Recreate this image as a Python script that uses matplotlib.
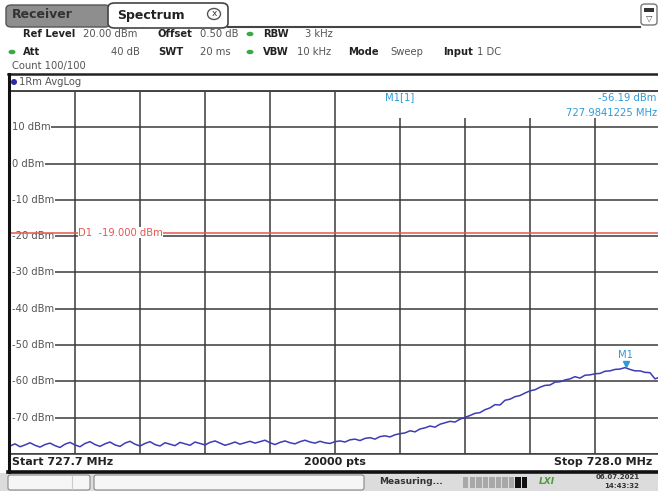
import numpy as np
import matplotlib.pyplot as plt
from matplotlib.patches import Rectangle, FancyBboxPatch, Ellipse
from matplotlib.transforms import blended_transform_factory

# 화면 크기 (px)
W, H = 658, 491

start_mhz = 727.7
stop_mhz = 728.0
ref_level = 20
bottom_level = -80
y_ticks = [10, 0, -10, -20, -30, -40, -50, -60, -70]
d1_level = -19.0
m1_freq = 727.9841225
m1_level = -56.19
sweep_pts = 20000

# 화면에서 읽은 트레이스 값 (dBm)
trace_dbm = [
    -77.8, -77.2, -78.0, -77.5, -76.9, -77.6, -78.1, -77.4, -77.0, -77.7,
    -78.2, -77.3, -76.8, -77.5, -78.0, -77.1, -76.6, -77.4, -77.9, -77.2,
    -76.7, -77.5, -77.9, -77.0, -76.5, -77.3, -77.8, -77.1, -76.6, -77.4,
    -77.8, -76.9, -77.3, -77.7, -76.8, -77.2, -77.6, -76.7, -77.1, -77.5,
    -76.8, -76.4, -77.0, -77.6, -77.2, -76.7, -77.3, -76.9, -76.5, -77.0,
    -76.6, -76.2, -76.9, -77.4, -76.8, -76.4, -76.9, -77.2, -76.6, -76.2,
    -76.7, -77.0, -76.5, -76.9, -77.1, -76.6,
    -76.4, -76.7, -76.1, -75.9, -76.3, -75.7, -75.5, -75.9, -75.2, -75.0, -75.3, -74.7, -74.4,
    -74.2, -73.6, -73.9, -73.1, -72.8, -72.3, -72.6, -71.8, -71.4, -71.0, -71.2, -70.4, -69.9,
    -69.4, -68.8, -68.6, -67.8, -67.3, -66.4, -66.5, -65.2, -64.9, -64.2, -63.9, -63.2, -62.6,
    -62.3, -61.6, -61.1, -61.0, -60.2, -60.1, -59.6, -59.3, -58.7, -59.1, -58.3, -58.2, -57.9,
    -57.8, -57.2, -57.1, -56.7, -56.6, -56.2, -56.7, -57.1, -57.1, -57.5, -57.6, -59.3, -58.8,
]

label_grey = "#555555"
grid_col = "#3a3a3a"
trace_col = "#3c3cb4"
marker_col = "#2e9ad8"
d1_col = "#e8564e"
green = "#3aa845"


def fx(x):
    return x / W


def fy(y):
    return 1 - y / H


fig = plt.figure(figsize=(W / 100, H / 100), dpi=100)
fig.patch.set_facecolor("white")

# 탭
fig.add_artist(FancyBboxPatch((fx(6), fy(27)), 104 / W, 22 / H,
                              boxstyle="round,pad=0,rounding_size=0.008",
                              transform=fig.transFigure, fc="#8e8e8e", ec="#555555", lw=1))
fig.add_artist(FancyBboxPatch((fx(108), fy(28)), 120 / W, 25 / H,
                              boxstyle="round,pad=0,rounding_size=0.01",
                              transform=fig.transFigure, fc="white", ec="#444444", lw=1.2))
fig.add_artist(plt.Line2D([fx(228), fx(640)], [fy(27), fy(27)], transform=fig.transFigure,
                          color="#444444", lw=1.5))
fig.text(fx(12), fy(15), "Receiver", fontsize=9, fontweight="bold", color="#333333", va="center")
fig.text(fx(117), fy(15), "Spectrum", fontsize=9, fontweight="bold", color="#222222", va="center")
fig.add_artist(Ellipse((fx(214), fy(14)), 13 / W, 11 / H, transform=fig.transFigure,
                       fc="white", ec="#555555", lw=1))
fig.text(fx(214), fy(14), "x", fontsize=6.5, color="#333333", ha="center", va="center")
fig.add_artist(FancyBboxPatch((fx(641), fy(25)), 16 / W, 21 / H,
                              boxstyle="round,pad=0,rounding_size=0.006",
                              transform=fig.transFigure, fc="white", ec="#777777", lw=1))
fig.add_artist(Rectangle((fx(644), fy(12)), 10 / W, 4 / H, transform=fig.transFigure,
                         fc="#333333", ec="none"))
fig.text(fx(649), fy(18), "▽", fontsize=6, color="#444444", ha="center", va="center")

# 설정 정보
hdr = 7.2
rows = [
    (34, [(23, "Ref Level", True), (83, "20.00 dBm", False), (158, "Offset", True),
          (200, "0.50 dB", False), (263, "RBW", True), (305, "3 kHz", False)]),
    (52, [(23, "Att", True), (158, "SWT", True), (263, "VBW", True), (297, "10 kHz", False),
          (348, "Mode", True), (390, "Sweep", False), (443, "Input", True), (477, "1 DC", False)]),
]
for y, items in rows:
    for x, s, bold in items:
        fig.text(fx(x), fy(y), s, fontsize=hdr, fontweight="bold" if bold else "normal",
                 color="#222222" if bold else label_grey, va="center")
fig.text(fx(140), fy(52), "40 dB", fontsize=hdr, color=label_grey, va="center", ha="right")
fig.text(fx(231), fy(52), "20 ms", fontsize=hdr, color=label_grey, va="center", ha="right")
fig.text(fx(12), fy(66), "Count 100/100", fontsize=hdr, color=label_grey, va="center")
for gx, gy in [(250, 34), (12, 52), (250, 52)]:
    fig.add_artist(Ellipse((fx(gx), fy(gy)), 7 / W, 4.5 / H, transform=fig.transFigure,
                           fc=green, ec="none"))

# 그래프 프레임
fig.add_artist(plt.Line2D([fx(8), fx(658)], [fy(74), fy(74)], transform=fig.transFigure,
                          color="#222222", lw=1.8))
fig.add_artist(plt.Line2D([fx(8.5), fx(8.5)], [fy(74), fy(472)], transform=fig.transFigure,
                          color="#111111", lw=2.2))
fig.add_artist(Ellipse((fx(14), fy(82)), 6 / W, 6 / H, transform=fig.transFigure,
                       fc="#2a2aa8", ec="none"))
fig.text(fx(19), fy(82), "1Rm AvgLog", fontsize=hdr, color=label_grey, va="center")

ax = fig.add_axes([fx(10), fy(454), 650 / W, 363 / H])
ax.set_xlim(start_mhz, stop_mhz)
ax.set_ylim(bottom_level, ref_level)
ax.set_xticks(np.linspace(start_mhz, stop_mhz, 11))
ax.set_yticks(np.arange(bottom_level, ref_level + 1, 10))
ax.grid(True, color=grid_col, lw=1.1)
ax.tick_params(length=0, labelbottom=False, labelleft=False)
for sp in ax.spines.values():
    sp.set_visible(False)
ax.axhline(ref_level, color="#444444", lw=1.4, clip_on=False, zorder=2.5)
ax.axhline(bottom_level, color=grid_col, lw=1.1, clip_on=False)

blend = blended_transform_factory(ax.transAxes, ax.transData)
for t in y_ticks:
    ax.text(0.003, t, f"{t} dBm", transform=blend, fontsize=hdr, color=label_grey,
            va="center", ha="left", zorder=3,
            bbox=dict(fc="white", ec="none", pad=0.6))

# 마커 정보 영역
ax.add_patch(Rectangle((0.503, 0.925), 0.51, 0.072, transform=ax.transAxes,
                       fc="white", ec="none", zorder=2, clip_on=False))
ax.text(0.6, 0.982, "M1[1]", transform=ax.transAxes, fontsize=hdr, color=marker_col,
        va="center", ha="center", zorder=3)
ax.text(0.995, 0.982, f"{m1_level:.2f} dBm", transform=ax.transAxes, fontsize=hdr,
        color=marker_col, va="center", ha="right", zorder=3, clip_on=False)
ax.text(0.995, 0.94, f"{m1_freq:.7f} MHz", transform=ax.transAxes, fontsize=hdr,
        color=marker_col, va="center", ha="right", zorder=3, clip_on=False)

# D1 라인
ax.axhline(d1_level, color=d1_col, lw=1.1, zorder=4)
ax.text(start_mhz + 0.0315, d1_level, f"D1  {d1_level:.3f} dBm", fontsize=hdr, color=d1_col,
        va="center", ha="left", zorder=5, bbox=dict(fc="white", ec="none", pad=0.3))

# 트레이스
freqs = np.linspace(start_mhz, stop_mhz, len(trace_dbm))
ax.plot(freqs, trace_dbm, color=trace_col, lw=1.1, zorder=6, clip_on=False)
ax.plot([m1_freq], [m1_level + 1.0], marker="v", ms=5, color=marker_col, zorder=7)
ax.text(m1_freq, m1_level + 3.4, "M1", fontsize=hdr, color=marker_col, ha="center",
        va="center", zorder=7)

# 하단 주파수 바
fb = 8
fig.text(fx(12), fy(462), f"Start {start_mhz:.1f} MHz", fontsize=fb, fontweight="bold",
         color="#222222", va="center")
fig.text(fx(335), fy(462), f"{sweep_pts} pts", fontsize=fb, fontweight="bold",
         color="#222222", va="center", ha="center")
fig.text(fx(652), fy(462), f"Stop {stop_mhz:.1f} MHz", fontsize=fb, fontweight="bold",
         color="#222222", va="center", ha="right")
fig.add_artist(plt.Line2D([fx(8), fx(658)], [fy(471.5), fy(471.5)], transform=fig.transFigure,
                          color="#111111", lw=2.6))

# 상태 표시줄
fig.add_artist(Rectangle((0, 0), 1, fy(473), transform=fig.transFigure,
                         fc="#dcdcdc", ec="none"))
fig.add_artist(FancyBboxPatch((fx(8), fy(490)), 82 / W, 15 / H,
                              boxstyle="round,pad=0,rounding_size=0.004",
                              transform=fig.transFigure, fc="#f6f6f6", ec="#888888", lw=0.8))
fig.add_artist(plt.Line2D([fx(72), fx(72)], [fy(476), fy(489)], transform=fig.transFigure,
                          color="#cccccc", lw=0.8))
fig.add_artist(FancyBboxPatch((fx(94), fy(490)), 270 / W, 15 / H,
                              boxstyle="round,pad=0,rounding_size=0.004",
                              transform=fig.transFigure, fc="#f6f6f6", ec="#888888", lw=0.8))
fig.text(fx(379), fy(482), "Measuring...", fontsize=6.5, fontweight="bold", color="#333333",
         va="center")
for i in range(8):
    fig.add_artist(Rectangle((fx(463 + i * 6.5), fy(488)), 5.5 / W, 11 / H,
                             transform=fig.transFigure, fc="#a8a8a8", ec="none"))
for i in range(2):
    fig.add_artist(Rectangle((fx(515 + i * 6.5), fy(488)), 5.5 / W, 11 / H,
                             transform=fig.transFigure, fc="#111111", ec="none"))
fig.text(fx(547), fy(482), "LXI", fontsize=6.5, fontweight="bold", color="#4e9a3c",
         va="center", ha="center", style="italic")
fig.text(fx(618), fy(477), "06.07.2021", fontsize=5, fontweight="bold", color="#333333",
         va="center", ha="center")
fig.text(fx(622), fy(486), "14:43:32", fontsize=5, fontweight="bold", color="#333333",
         va="center", ha="center")

fig.savefig("out.png", dpi=100, facecolor="white")
